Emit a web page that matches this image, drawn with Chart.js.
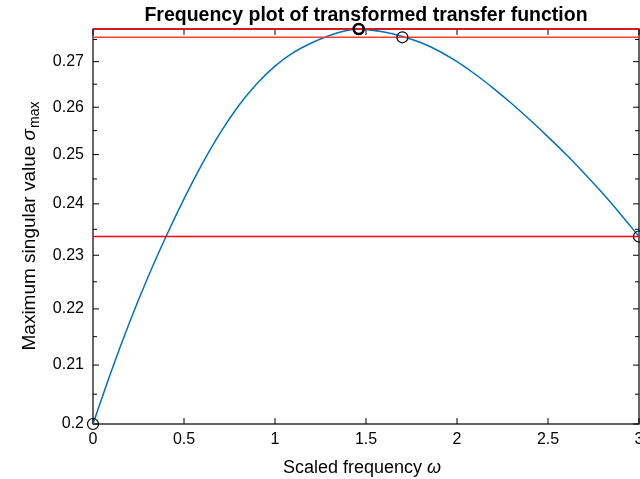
<!DOCTYPE html>
<html>
<head>
<meta charset="utf-8">
<script src="https://cdn.jsdelivr.net/npm/chart.js@4.4.1/dist/chart.umd.min.js"></script>
<style>
  html, body { margin: 0; padding: 0; background: #fff; }
  canvas { display: block; }
</style>
</head>
<body>
<canvas id="c" width="640" height="479"></canvas>
<script>
// ---- data ----
const omega = [0, 0.1, 0.2, 0.3, 0.4, 0.5, 0.6, 0.7, 0.8, 0.9, 1.0, 1.1, 1.2, 1.3, 1.4, 1.46, 1.5,
               1.6, 1.7, 1.8, 1.9, 2.0, 2.1, 2.2, 2.3, 2.4, 2.5, 2.6, 2.7, 2.8, 2.9, 3.0];
const sigmaMax = [0.2000, 0.2089, 0.2175, 0.2257, 0.2335, 0.2410, 0.2481, 0.2546, 0.2603, 0.2651,
                  0.2690, 0.2720, 0.2742, 0.2759, 0.2771, 0.2774, 0.2773, 0.2767, 0.2757, 0.2743,
                  0.2724, 0.2700, 0.2672, 0.2641, 0.2608, 0.2573, 0.2537, 0.2500, 0.2461, 0.2421,
                  0.2379, 0.2336];
const refLevels = [0.2774, 0.2755, 0.2336];
const markerX = [0, 1.70, 3.0];
const markerY = [0.2000, 0.2755, 0.2336];
const peakX = [1.46];
const peakY = [0.2774];
const xTickValues = [0, 0.5, 1, 1.5, 2, 2.5, 3];
const xTickLabels = ['0', '0.5', '1', '1.5', '2', '2.5', '3'];
const yTickValues = [0.20, 0.21, 0.22, 0.23, 0.24, 0.25, 0.26, 0.27];
const yTickLabels = ['0.2', '0.21', '0.22', '0.23', '0.24', '0.25', '0.26', '0.27'];
const yMinorTicks = [0.205, 0.215, 0.225, 0.235, 0.245, 0.255, 0.265, 0.275];
const yMin = 0.2, yMax = 0.2774, xMin = 0, xMax = 3;
const titleText = 'Frequency plot of transformed transfer function';
const xTitle = 'Scaled frequency ';
const xTitleSym = 'ω';
const yTitle = 'Maximum singular value ';
const yTitleSym = 'σ';
const yTitleSub = 'max';

const FONT = '"Liberation Sans", Arial, Helvetica, sans-serif';

const curveData = omega.map((x, i) => ({ x, y: sigmaMax[i] }));
const refDatasets = refLevels.map((v, i) => ({
  type: 'line',
  data: [{ x: xMin, y: v }, { x: xMax, y: v }],
  borderColor: i === 1 ? '#ff3c3c' : '#ff0000',
  borderWidth: 1.5,
  pointRadius: 0,
  fill: false,
  clip: false,
  order: 2
}));

const axesPlugin = {
  id: 'axesBox',
  beforeDatasetsDraw(chart) {
    const ctx = chart.ctx;
    const { left, right, top, bottom } = chart.chartArea;
    const xs = chart.scales.x, ys = chart.scales.y;
    ctx.save();
    ctx.strokeStyle = '#000';
    ctx.lineWidth = 1.2;
    ctx.strokeRect(left, top, right - left, bottom - top);
    ctx.lineWidth = 1;
    ctx.beginPath();
    xTickValues.forEach(v => {
      const px = xs.getPixelForValue(v);
      ctx.moveTo(px, bottom); ctx.lineTo(px, bottom - 6);
      ctx.moveTo(px, top); ctx.lineTo(px, top + 6);
    });
    yTickValues.forEach(v => {
      const py = ys.getPixelForValue(v);
      ctx.moveTo(left, py); ctx.lineTo(left + 6, py);
      ctx.moveTo(right, py); ctx.lineTo(right - 6, py);
    });
    yMinorTicks.forEach(v => {
      const py = ys.getPixelForValue(v);
      ctx.moveTo(left, py); ctx.lineTo(left + 4, py);
      ctx.moveTo(right, py); ctx.lineTo(right - 4, py);
    });
    ctx.stroke();
    ctx.restore();
  },
  afterDraw(chart) {
    const ctx = chart.ctx;
    const { left, right, top, bottom } = chart.chartArea;
    const cx = (left + right) / 2, cy = (top + bottom) / 2;
    ctx.save();
    ctx.fillStyle = '#000';
    ctx.textBaseline = 'alphabetic';
    // main title
    ctx.font = 'bold 19.5px ' + FONT;
    ctx.textAlign = 'center';
    ctx.fillText(titleText, cx, 21);
    // x title
    ctx.textAlign = 'left';
    ctx.font = '18px ' + FONT;
    const w1 = ctx.measureText(xTitle).width;
    ctx.font = 'italic 18px ' + FONT;
    const w2 = ctx.measureText(xTitleSym).width;
    let sx = cx - 4 - (w1 + w2) / 2;
    ctx.font = '18px ' + FONT;
    ctx.fillText(xTitle, sx, 473);
    ctx.font = 'italic 18px ' + FONT;
    ctx.fillText(xTitleSym, sx + w1, 473);
    // y title (rotated)
    ctx.translate(35, cy);
    ctx.rotate(-Math.PI / 2);
    ctx.font = '19px ' + FONT;
    const a = ctx.measureText(yTitle).width;
    ctx.font = 'italic 19px ' + FONT;
    const b = ctx.measureText(yTitleSym).width;
    ctx.font = '14px ' + FONT;
    const c = ctx.measureText(yTitleSub).width;
    let sy = -(a + b + c) / 2;
    ctx.font = '19px ' + FONT;
    ctx.fillText(yTitle, sy, 0);
    ctx.font = 'italic 19px ' + FONT;
    ctx.fillText(yTitleSym, sy + a, 0);
    ctx.font = '14px ' + FONT;
    ctx.fillText(yTitleSub, sy + a + b + 1, 4);
    ctx.restore();
  }
};

new Chart(document.getElementById('c'), {
  type: 'line',
  data: {
    datasets: [
      {
        type: 'line',
        data: markerX.map((x, i) => ({ x, y: markerY[i] })),
        showLine: false,
        pointStyle: 'circle',
        pointRadius: 5.5,
        pointBorderWidth: 1.2,
        pointBorderColor: '#000',
        pointBackgroundColor: 'rgba(0,0,0,0)',
        clip: false,
        order: 0
      },
      {
        type: 'line',
        data: peakX.map((x, i) => ({ x, y: peakY[i] })),
        showLine: false,
        pointStyle: 'circle',
        pointRadius: 5,
        pointBorderWidth: 2.6,
        pointBorderColor: '#000',
        pointBackgroundColor: 'rgba(0,0,0,0)',
        clip: false,
        order: 0
      },
      ...refDatasets,
      {
        type: 'line',
        data: curveData,
        borderColor: '#0072BD',
        borderWidth: 1.5,
        pointRadius: 0,
        cubicInterpolationMode: 'monotone',
        fill: false,
        order: 3
      }
    ]
  },
  options: {
    responsive: false,
    devicePixelRatio: 1,
    animation: false,
    events: [],
    layout: { padding: { left: 0, right: 1, top: 29, bottom: 0 }, autoPadding: false },
    plugins: { legend: { display: false }, title: { display: false }, tooltip: { enabled: false } },
    scales: {
      x: {
        type: 'linear',
        min: xMin, max: xMax,
        grid: { display: false, drawTicks: false },
        border: { display: false },
        afterBuildTicks: s => { s.ticks = xTickValues.map(v => ({ value: v })); },
        afterFit: s => { s.height = 55; s.paddingLeft = 0; s.paddingRight = 0; },
        ticks: {
          autoSkip: false, maxRotation: 0, padding: 6, color: '#000',
          font: { family: FONT, size: 16 },
          callback: (v, i) => xTickLabels[i]
        }
      },
      y: {
        type: 'logarithmic',
        min: yMin, max: yMax,
        grid: { display: false, drawTicks: false },
        border: { display: false },
        afterBuildTicks: s => { s.ticks = yTickValues.map(v => ({ value: v })); },
        afterFit: s => { s.width = 93; s.paddingTop = 0; s.paddingBottom = 0; },
        ticks: {
          autoSkip: false, padding: 9, color: '#000',
          font: { family: FONT, size: 16 },
          callback: (v, i) => yTickLabels[i]
        }
      }
    }
  },
  plugins: [axesPlugin]
});
</script>
</body>
</html>
